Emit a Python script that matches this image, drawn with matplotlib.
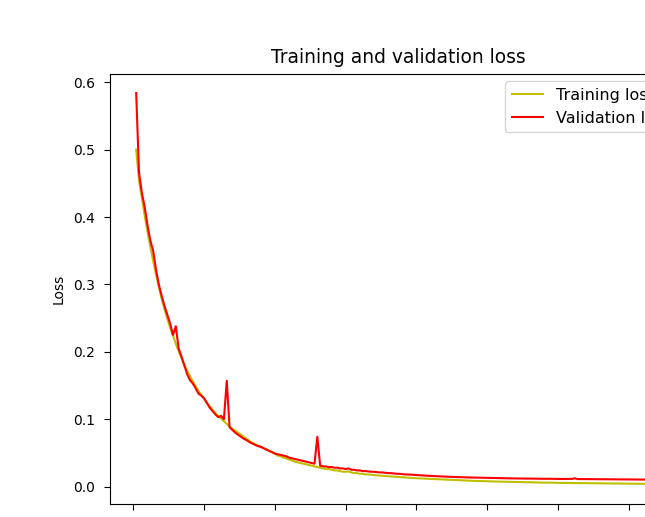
import matplotlib
matplotlib.use("Agg")
import matplotlib.pyplot as plt
import numpy as np

train_loss = [
    0.500, 0.455, 0.428, 0.402, 0.378, 0.356, 0.335, 0.315, 0.296, 0.279,
    0.263, 0.249, 0.236, 0.224, 0.212, 0.201, 0.191, 0.181, 0.172, 0.164,
    0.156, 0.149, 0.142, 0.136, 0.130, 0.124, 0.119, 0.114, 0.109, 0.105,
    0.101, 0.097, 0.093, 0.089, 0.086, 0.083, 0.080, 0.077, 0.074, 0.071,
    0.068, 0.065, 0.063, 0.061, 0.059, 0.057, 0.055, 0.053, 0.051, 0.049,
    0.046, 0.045, 0.043, 0.042, 0.040, 0.039, 0.037, 0.036, 0.035, 0.034,
    0.033, 0.032, 0.031, 0.030, 0.029, 0.028, 0.027, 0.026, 0.026, 0.025,
    0.024, 0.024, 0.023, 0.022, 0.022, 0.0225, 0.021, 0.020, 0.020, 0.019,
    0.019, 0.018, 0.018, 0.0175, 0.017, 0.0167, 0.0163, 0.016, 0.0157, 0.0154,
    0.0150, 0.0147, 0.0144, 0.0141, 0.0138, 0.0135, 0.0132, 0.0129, 0.0127, 0.0124,
    0.0122, 0.0119, 0.0117, 0.0115, 0.0113, 0.0111, 0.0109, 0.0107, 0.0105, 0.0103,
    0.0101, 0.0099, 0.0097, 0.0095, 0.0093, 0.0092, 0.0090, 0.0088, 0.0087, 0.0085,
    0.0084, 0.0083, 0.0081, 0.0080, 0.0079, 0.0078, 0.0076, 0.0075, 0.0074, 0.0073,
    0.0072, 0.0071, 0.0070, 0.0069, 0.0068, 0.0067, 0.0066, 0.0065, 0.0064, 0.0063,
    0.0062, 0.0062, 0.0061, 0.0060, 0.0059, 0.0059, 0.0058, 0.0057, 0.0057, 0.0056,
    0.0055, 0.0055, 0.0054, 0.0054, 0.0053, 0.0053, 0.0052, 0.0052, 0.0051, 0.0051,
    0.0050, 0.0050, 0.0049, 0.0049, 0.0048, 0.0048, 0.0047, 0.0047, 0.0046, 0.0046,
    0.0045, 0.0045, 0.0044, 0.0044, 0.0043, 0.0043, 0.0043, 0.0042, 0.0042, 0.0041,
    0.0041, 0.0041, 0.0040, 0.0040, 0.0040, 0.0039,
]

val_loss = [
    0.584, 0.466, 0.436, 0.415, 0.388, 0.365, 0.350, 0.322, 0.300, 0.283,
    0.268, 0.255, 0.242, 0.225, 0.238, 0.205, 0.193, 0.180, 0.167, 0.158,
    0.153, 0.146, 0.138, 0.135, 0.131, 0.124, 0.117, 0.112, 0.107, 0.103,
    0.105, 0.100, 0.157, 0.088, 0.084, 0.080, 0.077, 0.074, 0.071, 0.069,
    0.066, 0.064, 0.062, 0.060, 0.059, 0.057, 0.055, 0.053, 0.051, 0.049,
    0.048, 0.047, 0.046, 0.045, 0.043, 0.042, 0.041, 0.040, 0.039, 0.038,
    0.037, 0.036, 0.035, 0.034, 0.074, 0.031, 0.030, 0.030, 0.029, 0.029,
    0.028, 0.028, 0.027, 0.027, 0.026, 0.027, 0.025, 0.025, 0.024, 0.024,
    0.023, 0.023, 0.0225, 0.022, 0.022, 0.0215, 0.021, 0.021, 0.0205, 0.020,
    0.020, 0.0195, 0.019, 0.019, 0.0185, 0.018, 0.018, 0.0177, 0.0174, 0.0171,
    0.0168, 0.0165, 0.0163, 0.0160, 0.0158, 0.0156, 0.0154, 0.0152, 0.0150, 0.0148,
    0.0146, 0.0145, 0.0143, 0.0142, 0.0140, 0.0139, 0.0137, 0.0136, 0.0135, 0.0134,
    0.0133, 0.0132, 0.0131, 0.0130, 0.0129, 0.0128, 0.0127, 0.0126, 0.0125, 0.0125,
    0.0124, 0.0123, 0.0122, 0.0122, 0.0121, 0.0120, 0.0120, 0.0119, 0.0119, 0.0118,
    0.0118, 0.0117, 0.0117, 0.0116, 0.0116, 0.0115, 0.0115, 0.0115, 0.0114, 0.0114,
    0.0113, 0.0113, 0.0113, 0.0112, 0.0114, 0.0122, 0.0112, 0.0111, 0.0111, 0.0111,
    0.0110, 0.0110, 0.0110, 0.0109, 0.0109, 0.0109, 0.0108, 0.0108, 0.0108, 0.0107,
    0.0107, 0.0107, 0.0106, 0.0106, 0.0106, 0.0105, 0.0105, 0.0105, 0.0104, 0.0104,
    0.0104, 0.0103, 0.0103, 0.0103, 0.0102, 0.0102,
]

epochs = list(range(1, len(train_loss) + 1))

W, H = 645, 517
fig = plt.figure(figsize=(W / 100, H / 100), dpi=100)
left, right, top, bottom = 110, 686, 73.5, 503.5
ax = fig.add_axes([left / W, (H - bottom) / H, (right - left) / W, (bottom - top) / H])

ax.plot(epochs, train_loss, 'y', label='Training loss')
ax.plot(epochs, val_loss, 'r', label='Validation loss')
ax.set_title('Training and validation loss', fontsize=13.4, pad=7.5)
ax.set_xlabel('Epochs')
ax.set_ylabel('Loss', labelpad=5)
ax.tick_params(axis='both', length=4.5, pad=6.3, labelsize=10)
ax.legend(loc='upper right', fontsize=11.5)

fig.savefig('out.png', dpi=100)
